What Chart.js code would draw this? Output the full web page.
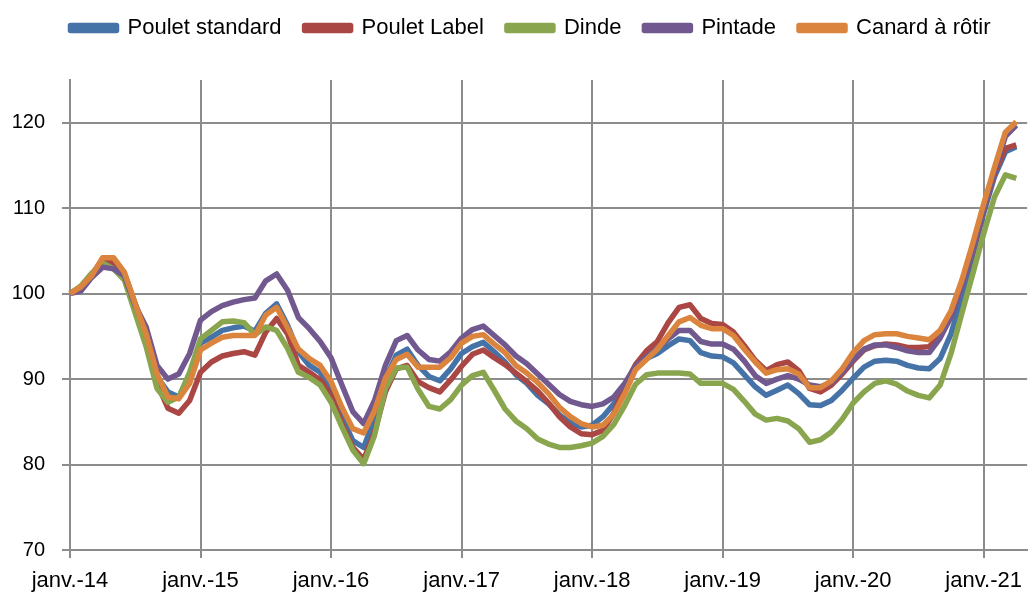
<!DOCTYPE html>
<html>
<head>
<meta charset="utf-8">
<script src="https://cdn.jsdelivr.net/npm/chart.js@4"></script>
<style>
  body { margin: 0; background: #fff; }
  #wrap { width: 1032px; height: 594px; }
</style>
</head>
<body>
<div id="wrap"><canvas id="prixChart" width="1032" height="594"></canvas></div>
<script>
// monthly labels janv.-14 .. mai-21 (axis runs one month past the last value)
const mois = ["janv.", "févr.", "mars", "avr.", "mai", "juin", "juil.", "août", "sept.", "oct.", "nov.", "déc."];
const labels = [];
for (let y = 14; y <= 21; y++) {
  for (let m = 0; m < 12; m++) {
    if (y === 21 && m > 4) break;
    labels.push(mois[m] + "-" + y);
  }
}

const pouletStandard = [100, 100.7, 102.0, 103.8, 103.5, 102.2, 98.8, 95.5, 90.3, 88.5, 87.9, 90.1,
  94.2, 94.9, 95.7, 96.0, 96.2, 95.6, 97.7, 98.8, 96.3, 93.2, 91.6, 90.8,
  88.7, 85.6, 82.8, 82.0, 85.4, 90.0, 92.8, 93.5, 91.6, 90.3, 89.8, 91.2,
  93.0, 93.8, 94.3, 93.2, 92.0, 90.5, 89.5, 88.1, 87.1, 85.8, 84.9, 84.4,
  84.6, 85.6, 87.1, 88.8, 91.2, 92.4, 93.0, 93.9, 94.7, 94.5, 93.1, 92.7,
  92.6, 91.9, 90.5, 89.1, 88.1, 88.7, 89.3, 88.3, 87.0, 86.9, 87.5, 88.7,
  90.1, 91.4, 92.1, 92.2, 92.1, 91.6, 91.3, 91.2, 92.4, 95.3, 99.6, 104.5,
  109.4, 113.7, 116.6, 117.2];

const pouletLabel = [100, 100.8, 102.2, 104.0, 103.6, 102.4, 98.7, 95.0, 89.5, 86.6, 86.0, 87.5,
  90.8, 92.0, 92.7, 93.0, 93.2, 92.8, 95.5, 97.1, 95.3, 91.6, 90.8, 89.9,
  88.1, 84.8, 82.0, 80.6, 83.8, 88.5, 91.2, 91.6, 89.7, 89.0, 88.5, 89.9,
  91.5, 92.9, 93.4, 92.5, 91.7, 90.7, 89.7, 88.6, 87.2, 85.6, 84.4, 83.6,
  83.5, 84.0, 86.0, 89.3, 91.7, 93.3, 94.4, 96.6, 98.4, 98.7, 97.1, 96.5,
  96.4, 95.5, 93.9, 92.2, 91.0, 91.7, 92.0, 91.0, 88.9, 88.5, 89.3, 90.6,
  92.1, 93.4, 93.9, 94.1, 94.0, 93.7, 93.7, 93.8, 95.0, 97.3, 101.0, 104.9,
  109.8, 114.1, 117.0, 117.4];

const dinde = [100, 100.9, 102.4, 103.6, 102.9, 101.6, 97.7, 93.8, 88.9, 87.3, 87.9, 90.8,
  94.7, 95.7, 96.7, 96.8, 96.6, 95.2, 96.1, 95.7, 93.6, 90.8, 90.2, 89.3,
  87.3, 84.4, 81.7, 80.1, 83.4, 88.9, 91.3, 91.4, 88.8, 86.8, 86.5, 87.6,
  89.3, 90.4, 90.8, 88.7, 86.5, 85.1, 84.2, 83.0, 82.4, 82.0, 82.0, 82.2,
  82.5, 83.3, 84.7, 86.9, 89.4, 90.5, 90.7, 90.7, 90.7, 90.6, 89.5, 89.5,
  89.5, 88.8, 87.4, 85.9, 85.2, 85.4, 85.1, 84.2, 82.6, 82.9, 83.8, 85.3,
  87.2, 88.5, 89.5, 89.8, 89.4, 88.6, 88.1, 87.8, 89.3, 93.0, 97.7, 102.3,
  107.0, 111.3, 113.9, 113.5];

const pintade = [100, 100.3, 101.9, 103.1, 102.9, 102.1, 98.6, 96.1, 91.6, 90.0, 90.6, 93.0,
  96.9, 97.9, 98.6, 99.0, 99.3, 99.5, 101.5, 102.3, 100.4, 97.2, 95.9, 94.4,
  92.5, 89.3, 86.2, 84.8, 87.5, 91.6, 94.5, 95.1, 93.4, 92.3, 92.1, 93.2,
  94.8, 95.8, 96.2, 95.1, 94.0, 92.7, 91.8, 90.6, 89.4, 88.2, 87.4, 87.0,
  86.8, 87.1, 87.9, 89.5, 91.5, 92.6, 93.6, 94.7, 95.7, 95.7, 94.4, 94.1,
  94.1, 93.5, 92.1, 90.4, 89.5, 90.0, 90.4, 90.0, 89.3, 89.1, 89.6, 90.8,
  92.3, 93.5, 94.0, 94.0, 93.7, 93.3, 93.1, 93.1, 94.8, 97.3, 100.8, 104.9,
  109.8, 114.3, 118.4, 119.7];

const canard = [100, 100.8, 102.1, 104.2, 104.2, 102.5, 98.8, 95.3, 90.6, 87.9, 87.7, 89.5,
  93.4, 94.2, 94.9, 95.1, 95.1, 95.1, 97.5, 98.4, 96.0, 93.5, 92.4, 91.6,
  89.7, 86.7, 84.2, 83.7, 86.3, 90.1, 92.3, 92.9, 91.4, 91.4, 91.4, 92.5,
  94.2, 95.0, 95.2, 94.1, 93.1, 91.6, 90.7, 89.6, 88.3, 86.7, 85.6, 84.8,
  84.4, 84.6, 85.9, 88.3, 91.1, 92.3, 93.5, 95.1, 96.7, 97.2, 96.3, 95.9,
  95.9, 95.1, 93.5, 92.0, 90.7, 91.1, 91.2, 90.6, 89.0, 89.0, 89.8, 91.2,
  93.1, 94.5, 95.2, 95.3, 95.3, 95.0, 94.8, 94.6, 95.7, 98.0, 101.6, 105.9,
  110.5, 114.8, 118.9, 120.1];

const gridColor = "#8c8c8c";

function serie(label, data, color, order) {
  return {
    label: label,
    data: data,
    borderColor: color,
    backgroundColor: color,
    borderWidth: 5.5,
    pointRadius: 0,
    pointHoverRadius: 0,
    tension: 0,
    borderJoinStyle: "round",
    order: order,
  };
}

// legend sits higher than chart.js puts it, and a bit right of centre;
// chart area starts at y=80
const legendFix = {
  id: "legendFix",
  beforeInit(chart) {
    const fit = chart.legend.fit;
    chart.legend.fit = function () {
      fit.call(this);
      this.height = 80;
    };
  },
  afterLayout(chart) {
    chart.legend.top = -6;
    chart.legend.left = 30;
  },
};

Chart.defaults.font.family = "'Liberation Sans', Arial, sans-serif";
Chart.defaults.color = "#000";

const ctx = document.getElementById("prixChart").getContext("2d");
new Chart(ctx, {
  type: "line",
  data: {
    labels: labels,
    datasets: [
      serie("Poulet standard", pouletStandard, "#4572a7", 5),
      serie("Poulet Label", pouletLabel, "#aa4643", 4),
      serie("Dinde", dinde, "#89a54e", 3),
      serie("Pintade", pintade, "#71588f", 2),
      serie("Canard à rôtir", canard, "#db843d", 1),
    ],
  },
  options: {
    responsive: false,
    animation: false,
    layout: { padding: { left: 0, right: 1, top: 0, bottom: 0 } },
    plugins: {
      legend: {
        position: "top",
        labels: {
          boxWidth: 46,
          boxHeight: 5,
          padding: 23,
          font: { size: 22 },
          sort: (a, b) => a.datasetIndex - b.datasetIndex,
        },
      },
      tooltip: { enabled: false },
    },
    scales: {
      x: {
        type: "category",
        offset: false,
        afterFit: (scale) => { scale.height = 44; },
        afterBuildTicks: (scale) => {
          scale.ticks = scale.ticks.filter((t) => t.value % 12 === 0);
        },
        grid: { color: gridColor, lineWidth: 2, tickLength: 8 },
        border: { color: gridColor, width: 2 },
        ticks: {
          autoSkip: false,
          maxRotation: 0,
          padding: 10,
          font: { size: 22 },
        },
      },
      y: {
        min: 70,
        max: 125,
        afterFit: (scale) => { scale.width = 70; },
        afterBuildTicks: (scale) => {
          scale.ticks = scale.ticks.filter((t) => t.value <= 120);
        },
        grid: { color: gridColor, lineWidth: 2, tickLength: 8 },
        border: { color: gridColor, width: 2 },
        ticks: {
          stepSize: 10,
          padding: 17,
          font: { size: 20 },
        },
      },
    },
  },
  plugins: [legendFix],
});
</script>
</body>
</html>
